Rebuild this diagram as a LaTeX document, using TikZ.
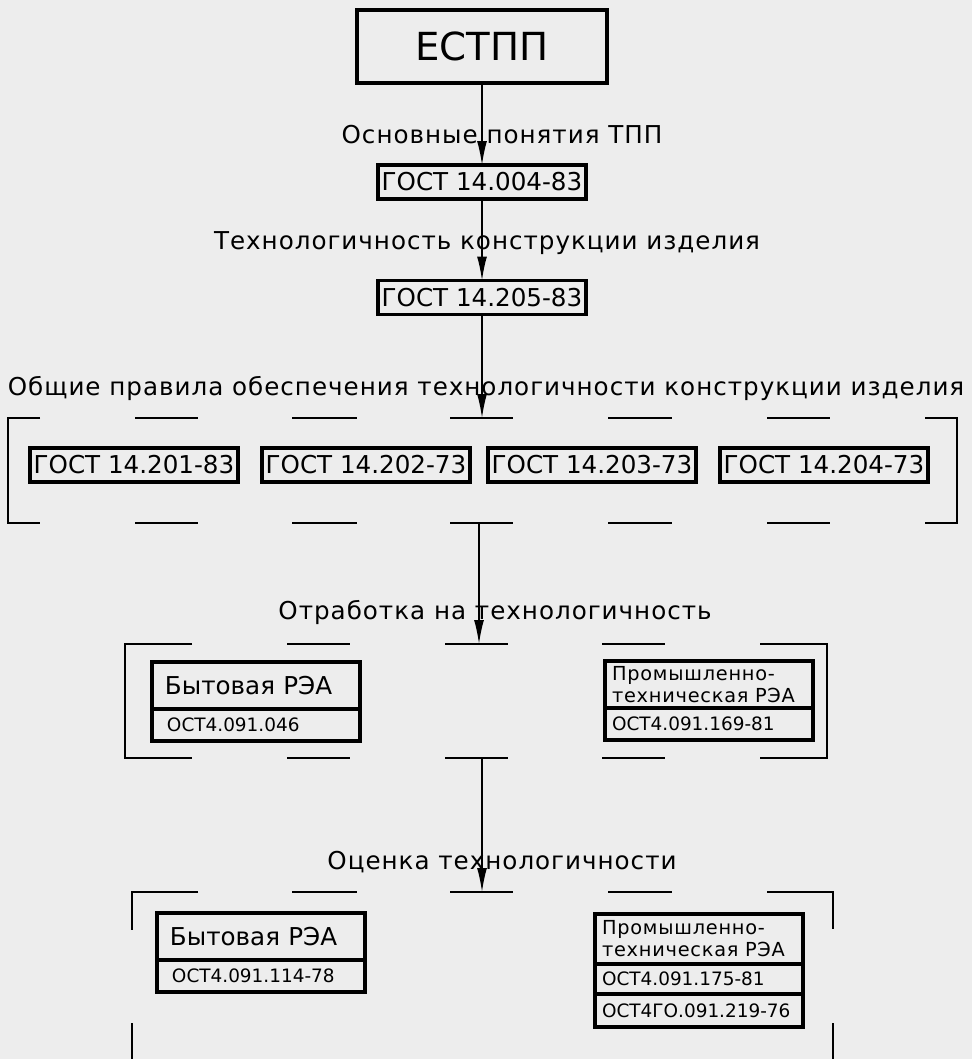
\documentclass[tikz,border=0pt]{standalone}
\usepackage{fontspec}
\usetikzlibrary{positioning}
\usetikzlibrary{arrows.meta}
\newfontfamily\cadfont[LetterSpace=4]{DejaVu Sans}
\newfontfamily\boxfont{DejaVu Sans}
\definecolor{paper}{gray}{0.93}

\tikzset{
  heavy/.style={draw, line width=2.2pt, inner sep=0pt, outer sep=0pt},
  gost/.style={heavy, minimum width=4.16cm, minimum height=0.68cm, font=\boxfont\fontsize{14}{16}\selectfont},
  head/.style={heavy, anchor=north west, minimum height=0.94cm, text width=3.56cm, inner xsep=0.3cm, align=left, font=\boxfont\fontsize{14}{16}\selectfont},
  code/.style={head, minimum height=0.64cm, font=\boxfont\fontsize{10.5}{12}\selectfont},
  wide/.style={inner xsep=0.14cm, text width=3.88cm},
  caption/.style={font=\cadfont\fontsize{14}{16}\selectfont, inner sep=0pt},
  feed/.style={line width=0.9pt, -{Latex[length=4.8mm,width=2mm]}},
  rule/.style={line width=0.9pt},
}

\begin{document}
\begin{tikzpicture}[x=0.02cm,y=-0.02cm]
\fill[paper] (0,0) rectangle (972,1059);
\useasboundingbox (0,0) rectangle (972,1059);

\node[heavy, line width=2.6pt, minimum width=5cm, minimum height=1.46cm, font=\boxfont\fontsize{22}{26}\selectfont] (estpp) at (482,46.5) {ЕСТПП};

\node[caption] (lblbase) at (502,135) {Основные понятия ТПП};
\node[gost] (g004) at (482,182) {ГОСТ 14.004-83};
\node[caption] (lbltech) at (487,243) {Технологичность конструкции изделия};
\node[gost] (g205) at (482,297.5) {ГОСТ 14.205-83};
\node[caption] (lblrules) at (486,388) {Общие правила обеспечения технологичности конструкции изделия};

% group 1
\foreach \a/\b in {135/198,292/357,450/513,608/672,767/830}
  \draw[rule] (\a,418) -- (\b,418) (\a,523) -- (\b,523);
\draw[rule] (40,418) -- (8,418) -- (8,523) -- (40,523);
\draw[rule] (925,418) -- (957,418) -- (957,523) -- (925,523);
\coordinate (top1) at (482,418);
\coordinate (bot1) at (479,523);

\node[gost] (g201) at (134,465) {ГОСТ 14.201-83};
\node[gost] (g202) at (366,465) {ГОСТ 14.202-73};
\node[gost] (g203) at (592,465) {ГОСТ 14.203-73};
\node[gost] (g204) at (824,465) {ГОСТ 14.204-73};

\node[caption] (lblwork) at (495,612) {Отработка на технологичность};

% group 2
\foreach \a/\b in {287/350,445/508,602/665}
  \draw[rule] (\a,644) -- (\b,644) (\a,758) -- (\b,758);
\draw[rule] (192,644) -- (125,644) -- (125,758) -- (192,758);
\draw[rule] (760,644) -- (827,644) -- (827,758) -- (760,758);
\coordinate (top2) at (479,644);
\coordinate (bot2) at (482,758);

\node[head, inner xsep=0.26cm, text width=3.64cm] (home2) at (152,662) {Бытовая РЭА};
\node[code, below=0pt of home2.south west, anchor=north west] (home2c) {ОСТ4.091.046};
\node[head, wide, font=\cadfont\fontsize{11}{12.5}\selectfont] (ind2) at (605,661) {Промышленно-\\техническая РЭА};
\node[code, wide, below=0pt of ind2.south west, anchor=north west] (ind2c) {ОСТ4.091.169-81};

\node[caption] (lblrate) at (502,862) {Оценка технологичности};

% group 3
\foreach \a/\b in {292/357,450/513,608/672}
  \draw[rule] (\a,892) -- (\b,892);
\draw[rule] (198,892) -- (132,892) -- (132,930);
\draw[rule] (132,1023) -- (132,1059);
\draw[rule] (767,892) -- (833,892) -- (833,929);
\draw[rule] (833,1023) -- (833,1059);
\coordinate (top3) at (482,892);

\node[head, inner xsep=0.26cm, text width=3.64cm] (home3) at (157,913) {Бытовая РЭА};
\node[code, below=0pt of home3.south west, anchor=north west] (home3c) {ОСТ4.091.114-78};
\node[head, wide, minimum height=1cm, font=\cadfont\fontsize{11}{12.5}\selectfont] (ind3) at (595,914) {Промышленно-\\техническая РЭА};
\node[code, wide, minimum height=0.6cm, below=0pt of ind3.south west, anchor=north west] (ind3c) {ОСТ4.091.175-81};
\node[code, wide, minimum height=0.66cm, below=0pt of ind3c.south west, anchor=north west] (ind3d) {ОСТ4ГО.091.219-76};

\draw[feed] (estpp) -- (g004);
\draw[feed] (g004) -- (g205);
\draw[feed] (g205) -- (top1);
\draw[feed] (bot1) -- (top2);
\draw[feed] (bot2) -- (top3);
\end{tikzpicture}
\end{document}
